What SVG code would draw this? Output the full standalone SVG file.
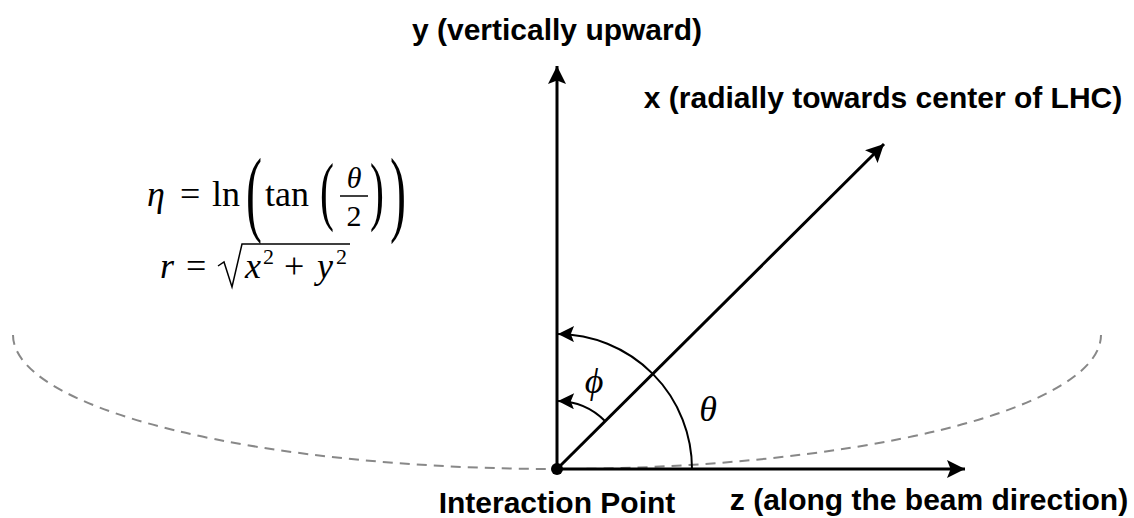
<svg xmlns="http://www.w3.org/2000/svg" width="1134" height="518" viewBox="0 0 1134 518">
<defs>
<style>
.lbl{font-family:"Liberation Sans",Arial,sans-serif;font-weight:bold;font-size:30px;fill:#000}
.m{font-family:"Liberation Serif","Times New Roman",serif;font-size:36px;fill:#000}
.mi{font-family:"Liberation Serif","Times New Roman",serif;font-style:italic;font-size:36px;fill:#000}
.axis{stroke:#000;stroke-width:3;fill:none}
.arc{stroke:#000;stroke-width:2;fill:none}
</style>
<marker id="ah" viewBox="0 0 10 10" refX="10" refY="5" markerWidth="6" markerHeight="6" markerUnits="strokeWidth" orient="auto">
<path d="M0,0 L10,5 L0,10 L2,5 Z" fill="#000"/>
</marker>
<marker id="ahs" viewBox="0 0 10 10" refX="10" refY="5" markerWidth="9" markerHeight="8" markerUnits="strokeWidth" orient="auto">
<path d="M0,0 L10,5 L0,10 L2,5 Z" fill="#000"/>
</marker>
</defs>
<rect width="1134" height="518" fill="#fff"/>
<g id="beam-ring">
<path d="M13,335 A544,134 0 0 0 1101,335" fill="none" stroke="#888" stroke-width="2" stroke-dasharray="10,7"/>
</g>
<g id="connectors">
<line class="axis" x1="557" y1="469" x2="557" y2="66" marker-end="url(#ah)"/>
<line class="axis" x1="557" y1="469" x2="965" y2="469" marker-end="url(#ah)"/>
<line class="axis" x1="557" y1="469" x2="884" y2="144" marker-end="url(#ah)"/>
<path class="arc" d="M692,469 A135,135 0 0 0 558,334" marker-end="url(#ahs)"/>
<path class="arc" d="M605,421 A68,68 0 0 0 558,401" marker-end="url(#ahs)"/>
</g>
<g id="interaction-point">
<circle cx="557" cy="469" r="6" fill="#000"/>
<text class="lbl" x="557" y="513" text-anchor="middle">Interaction Point</text>
</g>
<g id="y-axis-label"><text class="lbl" x="557" y="40" text-anchor="middle">y (vertically upward)</text></g>
<g id="x-axis-label"><text class="lbl" x="883" y="108" text-anchor="middle">x (radially towards center of LHC)</text></g>
<g id="z-axis-label"><text class="lbl" x="929" y="510" text-anchor="middle">z (along the beam direction)</text></g>
<g id="phi-label"><text class="mi" x="594" y="393" text-anchor="middle">ϕ</text></g>
<g id="theta-label"><text class="mi" x="708" y="421" text-anchor="middle">θ</text></g>
<g id="eta-formula">
<text class="mi" x="147" y="206">η</text>
<text class="m" x="180" y="206">=</text>
<text class="m" x="212" y="206">ln</text>
<text class="m" transform="translate(246,224) scale(0.5,1)" style="font-size:96px">(</text>
<text class="m" x="265" y="206">tan</text>
<text class="m" transform="translate(320,216) scale(0.55,1)" style="font-size:76px">(</text>
<text class="mi" x="354" y="188" text-anchor="middle" style="font-size:30px">θ</text>
<line x1="340" y1="196" x2="368" y2="196" stroke="#000" stroke-width="1.5"/>
<text class="m" x="354" y="226" text-anchor="middle" style="font-size:30px">2</text>
<text class="m" transform="translate(370,216) scale(0.55,1)" style="font-size:76px">)</text>
<text class="m" transform="translate(390,224) scale(0.5,1)" style="font-size:96px">)</text>
</g>
<g id="r-formula">
<text class="mi" x="160" y="278">r</text>
<text class="m" x="186" y="278">=</text>
<path d="M218,266 L224,262 L232,287 L242,244 L350,244" fill="none" stroke="#000" stroke-width="1.5"/>
<text class="mi" x="245" y="278">x</text>
<text class="m" x="263" y="264" style="font-size:22px">2</text>
<text class="m" x="284" y="278">+</text>
<text class="mi" x="317" y="278">y</text>
<text class="m" x="336" y="264" style="font-size:22px">2</text>
</g>
</svg>
